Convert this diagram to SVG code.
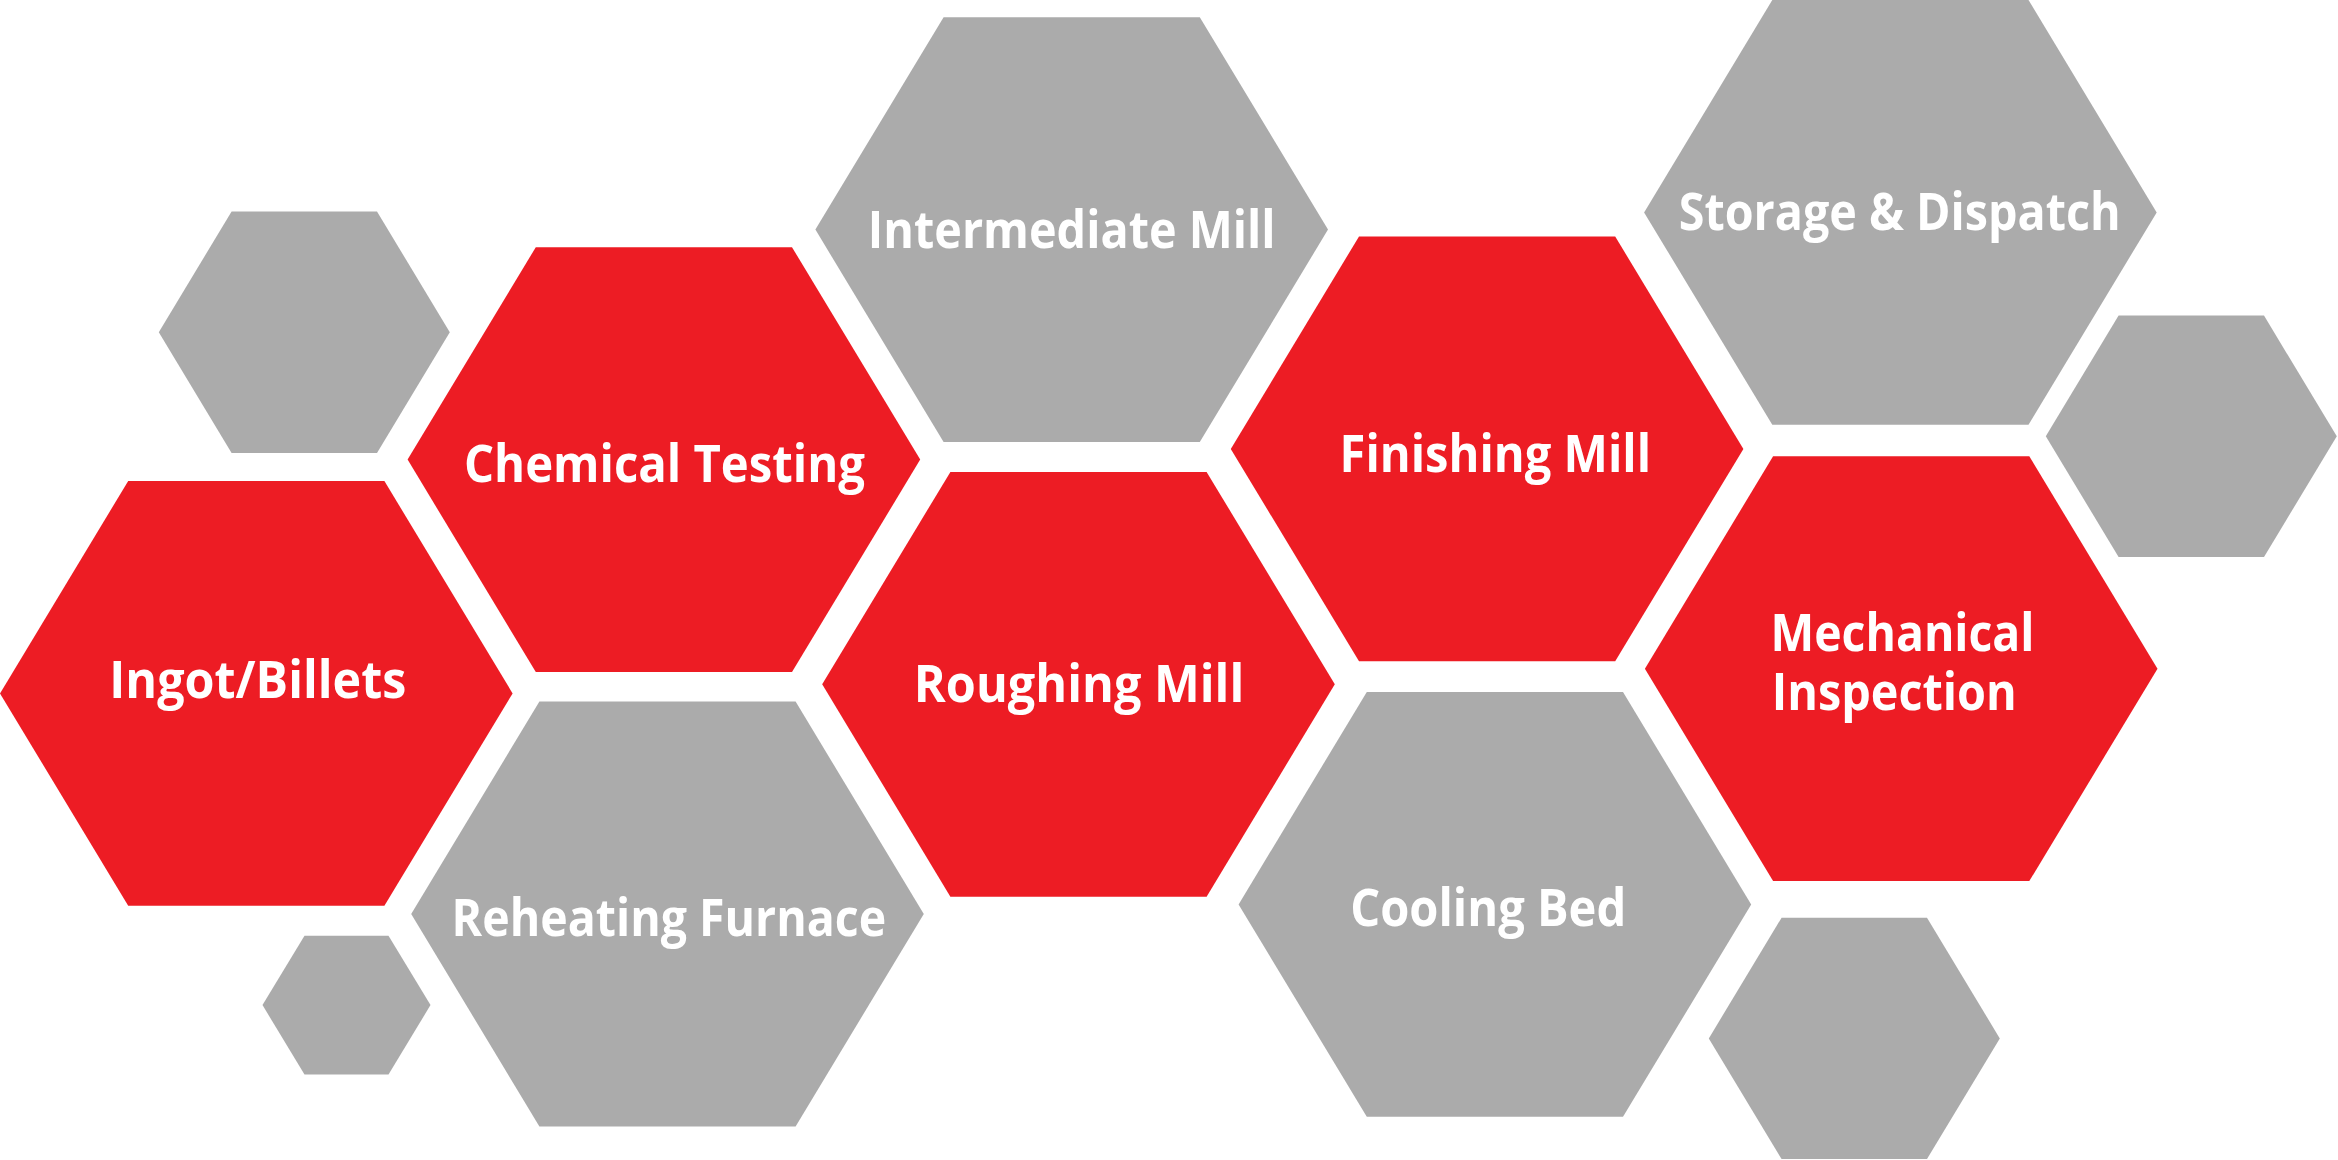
<svg xmlns="http://www.w3.org/2000/svg" width="2338" height="1160" viewBox="0 0 2338 1160">
<style>
.red{fill:#ED1C24}
.gray{fill:#ABABAB}
.lbl{fill:#FFFFFF;font-family:"Open Sans","Liberation Sans",sans-serif;font-weight:700;font-size:52px}
.mid{text-anchor:middle}
</style>
<rect width="2338" height="1160" fill="#FFFFFF"/>
<g id="connectors"></g>
<g id="hex-small-topleft"><polygon class="gray" points="158.8,332.2 231.6,211.5 377,211.5 449.8,332.2 377,452.9 231.6,452.9"/></g>
<g id="hex-small-bottomleft"><polygon class="gray" points="262.5,1005.1 304.5,935.8 388.5,935.8 430.5,1005.1 388.5,1074.4 304.5,1074.4"/></g>
<g id="hex-small-right"><polygon class="gray" points="2045.8,436.3 2118.6,315.6 2264,315.6 2336.8,436.3 2264,557 2118.6,557"/></g>
<g id="hex-small-bottomright"><polygon class="gray" points="1708.8,1038.4 1781.6,917.7 1927,917.7 1999.8,1038.4 1927,1159.1 1781.6,1159.1"/></g>
<g id="ingot-billets">
<polygon class="red" points="0,693.4 128.2,481 384.4,481 512.6,693.4 384.4,905.8 128.2,905.8"/>
<text class="lbl mid" x="257.8" y="697.8" textLength="297" lengthAdjust="spacingAndGlyphs">Ingot/Billets</text>
</g>
<g id="chemical-testing">
<polygon class="red" points="407.6,459.6 535.8,247.2 792,247.2 920.2,459.6 792,672 535.8,672"/>
<text class="lbl mid" x="664.5" y="482" textLength="401" lengthAdjust="spacingAndGlyphs">Chemical Testing</text>
</g>
<g id="reheating-furnace">
<polygon class="gray" points="411.2,914 539.4,701.6 795.6,701.6 923.8,914 795.6,1126.4 539.4,1126.4"/>
<text class="lbl mid" x="668.9" y="936.2" textLength="434.6" lengthAdjust="spacingAndGlyphs">Reheating Furnace</text>
</g>
<g id="intermediate-mill">
<polygon class="gray" points="815.4,229.6 943.6,17.2 1199.8,17.2 1328,229.6 1199.8,442 943.6,442"/>
<text class="lbl mid" x="1071.7" y="248" textLength="407.8" lengthAdjust="spacingAndGlyphs">Intermediate Mill</text>
</g>
<g id="roughing-mill">
<polygon class="red" points="822.2,684.3 950.4,471.9 1206.6,471.9 1334.8,684.3 1206.6,896.7 950.4,896.7"/>
<text class="lbl mid" x="1079" y="702.4" textLength="330.5" lengthAdjust="spacingAndGlyphs">Roughing Mill</text>
</g>
<g id="finishing-mill">
<polygon class="red" points="1230.8,448.9 1359,236.5 1615.2,236.5 1743.4,448.9 1615.2,661.3 1359,661.3"/>
<text class="lbl mid" x="1495.3" y="471.9" textLength="311.5" lengthAdjust="spacingAndGlyphs">Finishing Mill</text>
</g>
<g id="cooling-bed">
<polygon class="gray" points="1238.6,904.4 1366.8,692 1623,692 1751.2,904.4 1623,1116.8 1366.8,1116.8"/>
<text class="lbl mid" x="1488.2" y="925.5" textLength="276" lengthAdjust="spacingAndGlyphs">Cooling Bed</text>
</g>
<g id="storage-dispatch">
<polygon class="gray" points="1644.1,212.4 1772.3,0 2028.5,0 2156.7,212.4 2028.5,424.8 1772.3,424.8"/>
<text class="lbl mid" x="1899.7" y="230" textLength="442" lengthAdjust="spacingAndGlyphs">Storage &amp; Dispatch</text>
</g>
<g id="mechanical-inspection">
<polygon class="red" points="1644.9,668.7 1773.1,456.3 2029.3,456.3 2157.5,668.7 2029.3,881.1 1773.1,881.1"/>
<text class="lbl"><tspan x="1770.5" y="650.7" textLength="264" lengthAdjust="spacingAndGlyphs">Mechanical</tspan><tspan x="1771.7" y="710" textLength="245" lengthAdjust="spacingAndGlyphs">Inspection</tspan></text>
</g>
</svg>
